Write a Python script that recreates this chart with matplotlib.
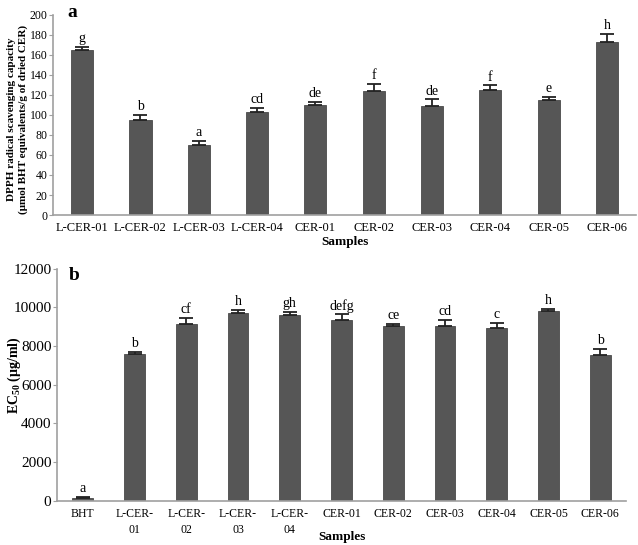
import numpy as np
import matplotlib.pyplot as plt

plt.rcParams['font.family'] = ['Liberation Serif', 'DejaVu Serif']
plt.rcParams['mathtext.fontset'] = 'custom'
plt.rcParams['mathtext.rm'] = 'Liberation Serif'
plt.rcParams['mathtext.bf'] = 'Liberation Serif:bold'

# panel a: DPPH radical scavenging capacity
samples_a = ["L-CER-01", "L-CER-02", "L-CER-03", "L-CER-04", "CER-01",
             "CER-02", "CER-03", "CER-04", "CER-05", "CER-06"]
dpph = [165, 95, 69.5, 103, 109.7, 123.7, 108.7, 124.7, 114.7, 173.3]
dpph_err = [3, 5, 4.5, 4, 3.5, 7.5, 7, 5, 3.6, 7.7]
letters_a = ["g", "b", "a", "cd", "de", "f", "de", "f", "e", "h"]

# panel b: EC50
samples_b = ["BHT", "L-CER-\n01", "L-CER-\n02", "L-CER-\n03", "L-CER-\n04", "CER-01",
             "CER-02", "CER-03", "CER-04", "CER-05", "CER-06"]
ec50 = [150, 7570, 9135, 9685, 9600, 9342, 9015, 9015, 8913, 9807, 7517]
ec50_err = [30, 110, 310, 170, 150, 290, 120, 340, 290, 100, 310]
letters_b = ["a", "b", "cf", "h", "gh", "defg", "ce", "cd", "c", "h", "b"]

bar_col = "#565656"
spine_col = "#a0a0a0"

fig = plt.figure(figsize=(6.38, 5.45), dpi=100)


def panel(ax, names, vals, errs, letters, width, ymax, step, gap, xfs, yfs):
    x = np.arange(len(names))
    lo = np.zeros(len(vals))
    ax.bar(x, vals, width=width, color=bar_col, edgecolor="#4a4a4a", linewidth=0.6, zorder=2)
    ax.errorbar(x, vals, yerr=[lo, errs], fmt="none", ecolor="#222222",
                elinewidth=1.3, capsize=5, capthick=1.3, zorder=3)
    for i in range(len(names)):
        ax.text(x[i], vals[i] + errs[i] + gap, letters[i], ha="center", va="bottom", fontsize=10)
    ax.set_xlim(-0.5, len(names) - 0.5)
    ax.set_ylim(0, ymax)
    ax.set_yticks(np.arange(0, ymax + 1, step))
    ax.set_xticks(x)
    ax.set_xticklabels(names, fontsize=xfs, linespacing=1.45)
    ax.tick_params(axis="y", labelsize=yfs, length=3, color=spine_col, pad=1)
    ax.tick_params(axis="x", length=0, pad=5)
    for s in ["top", "right"]:
        ax.spines[s].set_visible(False)
    for s in ["left", "bottom"]:
        ax.spines[s].set_color(spine_col)
        ax.spines[s].set_linewidth(1.2)


ax1 = fig.add_axes([0.083, 0.6055, 0.914, 0.367])
panel(ax1, samples_a, dpph, dpph_err, letters_a, 0.38, 200, 20, 1.5, 9, 8.5)
ax1.set_ylabel("DPPH radical scavenging capacity\n(\u03bcmol BHT equivalents/g of dried CER)",
               fontsize=8, fontweight="bold", linespacing=1.4)
ax1.yaxis.set_label_coords(-0.042, 0.48)
ax1.set_xlabel("Samples", fontsize=9.5, fontweight="bold", va="center")
ax1.xaxis.set_label_coords(0.5, -0.133)
ax1.text(0.024, 1.01, "a", transform=ax1.transAxes, fontsize=14, fontweight="bold",
         ha="left", va="center")

ax2 = fig.add_axes([0.0893, 0.0813, 0.892, 0.4257])
panel(ax2, samples_b, ec50, ec50_err, letters_b, 0.4, 12000, 2000, 100, 8.5, 11)
ax2.set_ylabel("EC$_{\\mathbf{50}}$ (\u03bcg/ml)", fontsize=10, fontweight="bold")
ax2.yaxis.set_label_coords(-0.06, 0.54)
ax2.set_xlabel("Samples", fontsize=9.5, fontweight="bold", va="center")
ax2.xaxis.set_label_coords(0.5, -0.156)
ax2.text(0.02, 0.97, "b", transform=ax2.transAxes, fontsize=14, fontweight="bold",
         ha="left", va="center")

fig.savefig("out.png", dpi=100)
